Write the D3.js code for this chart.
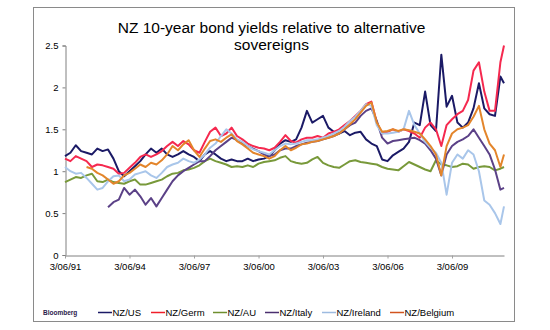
<!DOCTYPE html>
<html><head><meta charset="utf-8">
<script src="https://cdn.jsdelivr.net/npm/d3@7"></script>
<style>
html,body{margin:0;padding:0;background:#fff;}
svg{display:block;font-family:"Liberation Sans",Arial,sans-serif;}
</style></head>
<body><svg id="chart" width="550" height="330"></svg>
<script>
const dates = ["1991-06-03","1991-09-03","1991-12-03","1992-03-03","1992-06-03","1992-09-03","1992-12-03","1993-03-03","1993-06-03","1993-09-03","1993-12-03",
"1994-03-03","1994-06-03","1994-09-03","1994-12-03","1995-03-03","1995-06-03","1995-09-03","1995-12-03","1996-03-03","1996-06-03","1996-09-03","1996-12-03",
"1997-03-03","1997-06-03","1997-09-03","1997-12-03","1998-03-03","1998-06-03","1998-09-03","1998-12-03","1999-03-03","1999-06-03","1999-09-03","1999-12-03",
"2000-03-03","2000-06-03","2000-09-03","2000-12-03","2001-03-03","2001-06-03","2001-09-03","2001-12-03","2002-03-03","2002-06-03","2002-09-03","2002-12-03",
"2003-03-03","2003-06-03","2003-09-03","2003-12-03","2004-03-03","2004-06-03","2004-09-03","2004-12-03","2005-03-03","2005-06-03","2005-09-03","2005-12-03",
"2006-03-03","2006-06-03","2006-09-03","2006-12-03","2007-03-03","2007-06-03","2007-09-03","2007-12-03","2008-03-03","2008-06-03","2008-09-03","2008-12-03",
"2009-03-03","2009-06-03","2009-09-03","2009-12-03","2010-03-03","2010-06-03","2010-09-03","2010-12-03","2011-03-03","2011-06-03","2011-09-03","2011-11-03"];

const nzUS = [1.18,1.22,1.31,1.24,1.22,1.20,1.27,1.24,1.26,1.15,1.00,
0.94,1.00,1.06,1.12,1.20,1.27,1.22,1.27,1.20,1.17,1.20,1.24,
1.20,1.17,1.12,1.20,1.24,1.20,1.15,1.12,1.14,1.12,1.12,1.15,
1.12,1.14,1.15,1.18,1.25,1.33,1.37,1.35,1.38,1.52,1.72,1.58,
1.62,1.66,1.52,1.47,1.45,1.48,1.43,1.46,1.47,1.38,1.33,1.30,
1.14,1.12,1.19,1.23,1.27,1.35,1.58,1.55,1.95,1.55,1.48,2.39,
1.77,1.90,1.58,1.52,1.58,1.75,2.05,1.75,1.68,1.66,2.13,2.05];

const nzGerm = [1.15,1.12,1.18,1.15,1.12,1.05,1.08,1.07,1.05,1.03,0.97,
0.98,1.04,1.10,1.17,1.20,1.17,1.20,1.24,1.30,1.35,1.30,1.36,
1.32,1.25,1.22,1.35,1.47,1.52,1.42,1.45,1.52,1.42,1.38,1.33,
1.30,1.28,1.27,1.25,1.28,1.35,1.43,1.36,1.34,1.38,1.40,1.40,
1.42,1.40,1.45,1.47,1.50,1.55,1.60,1.66,1.72,1.80,1.83,1.58,
1.45,1.47,1.50,1.47,1.50,1.48,1.45,1.40,1.52,1.58,1.50,1.30,
1.55,1.62,1.68,1.72,1.85,2.20,2.30,1.95,1.72,1.72,2.30,2.50];

const nzAU = [0.87,0.90,0.93,0.92,0.95,0.97,0.88,0.87,0.90,0.87,0.86,
0.85,0.88,0.90,0.84,0.84,0.86,0.88,0.90,0.94,0.97,0.98,1.01,
1.02,1.04,1.07,1.12,1.15,1.12,1.10,1.08,1.05,1.06,1.05,1.07,
1.05,1.09,1.11,1.12,1.13,1.16,1.18,1.12,1.10,1.09,1.10,1.14,
1.17,1.10,1.07,1.05,1.04,1.08,1.12,1.13,1.11,1.10,1.09,1.08,
1.05,1.03,1.02,1.01,1.06,1.11,1.08,1.05,1.02,1.00,1.13,1.08,
1.07,1.05,1.06,1.09,1.08,1.03,1.05,1.06,1.05,1.01,1.03,1.05];

const nzItaly = [null,null,null,null,null,null,null,null,0.57,0.63,0.66,
0.80,0.72,0.78,0.70,0.60,0.68,0.58,0.68,0.78,0.88,0.95,1.00,
1.04,1.08,1.12,1.12,1.18,1.25,1.30,1.35,1.40,1.37,1.33,1.30,
1.27,1.24,1.20,1.18,1.20,1.25,1.27,1.27,1.30,1.32,1.34,1.35,
1.36,1.38,1.40,1.42,1.45,1.50,1.55,1.58,1.66,1.72,1.75,1.60,
1.40,1.33,1.36,1.37,1.38,1.39,1.40,1.37,1.33,1.25,1.15,0.95,
1.20,1.30,1.35,1.38,1.42,1.50,1.40,1.30,1.20,1.02,0.78,0.80];

const nzIreland = [1.05,1.00,0.97,0.98,0.92,0.85,0.78,0.80,0.88,0.94,0.95,
0.88,0.90,0.96,0.98,1.00,0.95,0.92,0.98,1.05,1.08,1.10,1.15,
1.12,1.10,1.14,1.20,1.28,1.33,1.42,1.50,1.45,1.38,1.35,1.30,
1.26,1.24,1.22,1.20,1.25,1.30,1.33,1.32,1.33,1.35,1.37,1.37,
1.38,1.40,1.42,1.45,1.48,1.53,1.60,1.65,1.72,1.80,1.78,1.55,
1.45,1.45,1.46,1.47,1.50,1.72,1.55,1.45,1.35,1.28,1.22,1.10,
0.72,1.10,1.20,1.15,1.25,1.20,1.00,0.65,0.60,0.50,0.37,0.58];

const nzBelgium = [null,null,null,null,1.05,1.03,0.98,0.95,0.90,0.85,0.88,
0.95,0.98,1.03,1.08,1.05,1.10,1.08,1.13,1.20,1.30,1.25,1.32,
1.37,1.25,1.17,1.27,1.36,1.38,1.35,1.40,1.44,1.36,1.32,1.27,
1.22,1.20,1.18,1.15,1.18,1.25,1.30,1.25,1.28,1.32,1.33,1.35,
1.36,1.38,1.40,1.42,1.45,1.50,1.56,1.62,1.70,1.78,1.82,1.58,
1.47,1.48,1.50,1.48,1.50,1.49,1.47,1.45,1.38,1.30,1.20,0.95,
1.30,1.45,1.50,1.52,1.55,1.65,1.78,1.50,1.33,1.25,1.05,1.20];

const seriesNames = ["NZ/US","NZ/Germ","NZ/AU","NZ/Italy","NZ/Ireland","NZ/Belgium"];
const seriesColors = ["#1b1a66","#f5294f","#78993a","#5b4187","#a9c6ea","#e3852b"];
const legendColors = ["#1b1a66","#f01e2a","#6f8f2e","#4b2f6f","#9dbbe0","#d2541e"];
const yTicks = [0,0.5,1,1.5,2,2.5];
const xTickDates = ["1991-06-03","1994-06-03","1997-06-03","2000-06-03","2003-06-03","2006-06-03","2009-06-03"];
const xTickLabels = ["3/06/91","3/06/94","3/06/97","3/06/00","3/06/03","3/06/06","3/06/09"];
const titleLines = ["NZ 10-year bond yields relative to alternative","sovereigns"];

const parse = d3.timeParse("%Y-%m-%d");
const svg = d3.select("#chart");

// frame
svg.append("rect").attr("x",33.5).attr("y",7.5).attr("width",481).attr("height",314)
  .attr("fill","#fff").attr("stroke","#8a8a8a").attr("stroke-width",1);

const x = d3.scaleTime().domain([parse("1991-06-03"), parse("2011-11-03")]).range([65,504]);
const y = d3.scaleLinear().domain([0,2.5]).range([255,45.5]);

// title
titleLines.forEach((t,i)=>{
  svg.append("text").attr("x",271.5).attr("y",32.5+i*17.5).attr("text-anchor","middle")
    .attr("font-size","15.5px").attr("fill","#000").text(t);
});

// y axis
const yAxis = d3.axisLeft(y).tickValues(yTicks).tickSize(3).tickPadding(4)
  .tickFormat((d,i)=>String(yTicks[i]));
const gy = svg.append("g").attr("transform","translate(65.5,0)").call(yAxis);
gy.select(".domain").attr("stroke","#808080");
gy.selectAll(".tick line").attr("stroke","#808080");
gy.selectAll("text").attr("font-size","9.5px").attr("font-family","Liberation Sans, Arial, sans-serif").attr("fill","#000");

// x axis
const tickDates = xTickDates.map(parse);
const xAxis = d3.axisBottom(x).tickValues(tickDates).tickSize(3).tickPadding(5)
  .tickFormat((d,i)=>xTickLabels[i]).tickSizeOuter(0);
const gx = svg.append("g").attr("transform","translate(0,255.5)").call(xAxis);
gx.select(".domain").attr("stroke","#808080");
gx.selectAll(".tick line").attr("stroke","#a0a0a0");
gx.selectAll("text").attr("font-size","9.5px").attr("font-family","Liberation Sans, Arial, sans-serif").attr("fill","#000");

// series
const allSeries = [nzUS,nzGerm,nzAU,nzItaly,nzIreland,nzBelgium];
const line = d3.line().defined(d=>d.v!=null).x(d=>x(d.t)).y(d=>y(d.v));
allSeries.forEach((vals,si)=>{
  const pts = dates.map((d,i)=>({t:parse(d), v:vals[i]}));
  svg.append("path").datum(pts).attr("d",line).attr("fill","none")
    .attr("stroke",seriesColors[si]).attr("stroke-width",2).attr("stroke-linejoin","round");
});

// legend
svg.append("text").attr("x",43).attr("y",315).attr("font-size","6.5px").attr("font-weight","bold")
  .attr("fill","#2a1a4a").text("Bloomberg");
const legendX = [98,151,213,265,322,390];
seriesNames.forEach((n,i)=>{
  const g = svg.append("g").attr("transform",`translate(${legendX[i]},312.5)`);
  g.append("line").attr("x1",0).attr("x2",14).attr("y1",0).attr("y2",0)
    .attr("stroke",legendColors[i]).attr("stroke-width",1.5);
  g.append("text").attr("x",14.5).attr("y",3.4).attr("font-size","9.5px").attr("fill","#000").text(n);
});
</script></body></html>
